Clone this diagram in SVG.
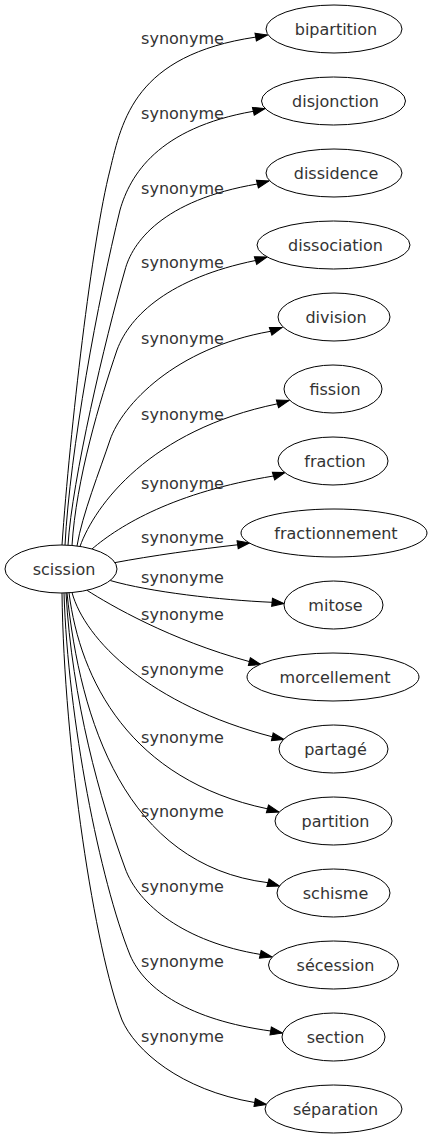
<svg xmlns="http://www.w3.org/2000/svg" width="432" height="1139" viewBox="0 0 432 1139">
<style>
.node ellipse{fill:#ffffff;stroke:#000000;stroke-width:1}
.node text,.lbl{font-family:"DejaVu Sans","Liberation Sans",sans-serif;font-size:16px;fill:#333333;text-anchor:middle}
.edge{fill:none;stroke:#000000;stroke-width:1;marker-end:url(#arr)}
</style>
<defs>
<marker id="arr" markerUnits="userSpaceOnUse" markerWidth="14" markerHeight="10" refX="12" refY="4.5" orient="auto" overflow="visible">
<path d="M0,0.5 L12,4.5 L0,8.5 Z" fill="#000000" stroke="#000000" stroke-width="1"/>
</marker>
</defs>
<rect width="432" height="1139" fill="#ffffff"/>
<g id="edges">
<path class="edge" d="M62,545 C70,430 92,240 110,170 C122,120 135,55 255.7,37.1 L267.5,35"/>
<path class="edge" d="M65,545 C70,450 98,300 120,210 C130,175 158,128 253.3,111.3 L265,108.5"/>
<path class="edge" d="M68,545.2 C72,480 105,340 125,270 C132,243 162,200 257.4,184 L269,181"/>
<path class="edge" d="M72,545.5 C76,480 100,400 117,350 C130,315 170,278 255.5,260.5 L267,257"/>
<path class="edge" d="M77,546 C82,515 100,470 110,440 C122,405 175,348 270.6,331.3 L282,327.5"/>
<path class="edge" d="M80,546.4 C95,505 150,430 277.5,403.8 L289,400.5"/>
<path class="edge" d="M92,549 C120,525 175,492 273.5,476 L285,472.5"/>
<path class="edge" d="M115,562.6 C150,556 200,549 237.6,544.8 L249.5,543"/>
<path class="edge" d="M110.2,580.5 C150,592 220,600 272,602.3 L284,603.5"/>
<path class="edge" d="M87,590.3 C110,605 170,640 249.4,661.6 L261,664.5"/>
<path class="edge" d="M72,592.5 C85,640 150,705 272.3,736.8 L284,739.5"/>
<path class="edge" d="M69,592.8 C80,680 130,780 267.4,808.8 L279,812"/>
<path class="edge" d="M67,592.9 C80,720 125,865 268,882.7 L279.5,886"/>
<path class="edge" d="M66,592.9 C72,700 100,800 125,868 C138,905 185,942 260.3,954.4 L272,957"/>
<path class="edge" d="M64,593 C68,720 100,880 130,955 C145,990 190,1020 270.7,1031 L282.5,1033"/>
<path class="edge" d="M62,593 C64,750 95,950 122,1020 C135,1050 180,1090 254.7,1102.5 L266.5,1104.5"/>
<text class="lbl" x="182.5" y="44">synonyme</text>
<text class="lbl" x="182.5" y="119">synonyme</text>
<text class="lbl" x="182.5" y="194">synonyme</text>
<text class="lbl" x="182.5" y="268">synonyme</text>
<text class="lbl" x="182.5" y="343.5">synonyme</text>
<text class="lbl" x="182.5" y="419.5">synonyme</text>
<text class="lbl" x="182.5" y="488.5">synonyme</text>
<text class="lbl" x="182.5" y="543.3">synonyme</text>
<text class="lbl" x="182.5" y="583.3">synonyme</text>
<text class="lbl" x="182.5" y="620">synonyme</text>
<text class="lbl" x="182.5" y="675">synonyme</text>
<text class="lbl" x="182.5" y="742.7">synonyme</text>
<text class="lbl" x="182.5" y="817.3">synonyme</text>
<text class="lbl" x="182.5" y="891.7">synonyme</text>
<text class="lbl" x="182.5" y="966.7">synonyme</text>
<text class="lbl" x="182.5" y="1041.7">synonyme</text>
</g>
<g id="scission" class="node"><ellipse cx="61" cy="569" rx="56" ry="24"/><text x="64" y="575">scission</text></g>
<g id="bipartition" class="node"><ellipse cx="334" cy="29" rx="68" ry="24"/><text x="336" y="35">bipartition</text></g>
<g id="disjonction" class="node"><ellipse cx="333.5" cy="101" rx="72" ry="24"/><text x="335.5" y="107">disjonction</text></g>
<g id="dissidence" class="node"><ellipse cx="334" cy="173" rx="68" ry="24"/><text x="336" y="179">dissidence</text></g>
<g id="dissociation" class="node"><ellipse cx="333.5" cy="245" rx="76.5" ry="24"/><text x="335.5" y="251">dissociation</text></g>
<g id="division" class="node"><ellipse cx="334" cy="317" rx="56" ry="24"/><text x="336" y="323">division</text></g>
<g id="fission" class="node"><ellipse cx="333" cy="389" rx="49" ry="24"/><text x="335" y="395">fission</text></g>
<g id="fraction" class="node"><ellipse cx="333" cy="461" rx="55" ry="24"/><text x="335" y="467">fraction</text></g>
<g id="fractionnement" class="node"><ellipse cx="334" cy="533" rx="93" ry="24"/><text x="336" y="539">fractionnement</text></g>
<g id="mitose" class="node"><ellipse cx="333.5" cy="605" rx="49.5" ry="24"/><text x="335.5" y="611">mitose</text></g>
<g id="morcellement" class="node"><ellipse cx="333" cy="677" rx="86" ry="24"/><text x="335" y="683">morcellement</text></g>
<g id="partage" class="node"><ellipse cx="333.5" cy="749" rx="54.5" ry="24"/><text x="335.5" y="755">partagé</text></g>
<g id="partition" class="node"><ellipse cx="333.5" cy="821" rx="58.5" ry="24"/><text x="335.5" y="827">partition</text></g>
<g id="schisme" class="node"><ellipse cx="333.5" cy="893" rx="56.5" ry="24"/><text x="335.5" y="899">schisme</text></g>
<g id="secession" class="node"><ellipse cx="333.5" cy="965" rx="65" ry="24"/><text x="335.5" y="971">sécession</text></g>
<g id="section" class="node"><ellipse cx="333.5" cy="1037" rx="51.5" ry="24"/><text x="335.5" y="1043">section</text></g>
<g id="separation" class="node"><ellipse cx="333.5" cy="1109" rx="68.5" ry="24"/><text x="335.5" y="1115">séparation</text></g>
</svg>
